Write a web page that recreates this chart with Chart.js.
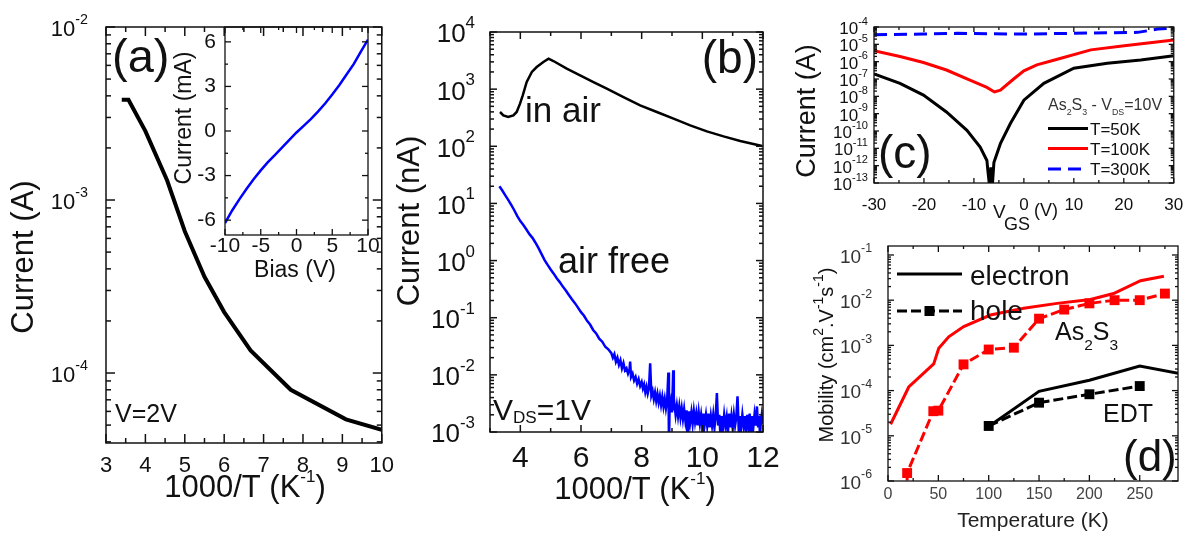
<!DOCTYPE html>
<html lang="en">
<head>
<meta charset="UTF-8" />
<title>Current and mobility of As2S3 films</title>
<style>
  body { margin: 0; background: #fff; }
  #fig { position: relative; width: 1192px; height: 536px; overflow: hidden; }
  canvas { position: absolute; }
</style>
<script src="https://cdn.jsdelivr.net/npm/chart.js@4.4.1/dist/chart.umd.min.js"></script>
</head>
<body>
<div id="fig">
  <canvas id="chartA" width="404" height="536" style="left:0;top:0"></canvas>
  <canvas id="chartInset" width="215" height="290" style="left:170px;top:0"></canvas>
  <canvas id="chartB" width="400" height="536" style="left:395px;top:0"></canvas>
  <canvas id="chartC" width="400" height="240" style="left:795px;top:0"></canvas>
  <canvas id="chartD" width="397" height="300" style="left:795px;top:236px"></canvas>
</div>
<script>
// ---- (a) current vs 1000/T at V=2V
const aInvT = [3.40, 3.57, 4.0, 4.55, 5.0, 5.5, 6.0, 6.67, 7.69, 9.09, 10.0];
const aCurrent = [3.8e-3, 3.8e-3, 2.5e-3, 1.3e-3, 6.6e-4, 3.6e-4, 2.25e-4, 1.35e-4, 8.0e-5, 5.4e-5, 4.7e-5];
const aXTicks = [3, 4, 5, 6, 7, 8, 9, 10];
const aYTicks = [1e-4, 1e-3, 1e-2];
const aYLabels = ['10^{-4}', '10^{-3}', '10^{-2}'];

// ---- (a) inset: I-V
const biasV = [-10, -9, -8, -7, -6, -5, -4, -3, -2, -1, 0, 1, 2, 3, 4, 5, 6, 7, 8, 9, 10];
const biasI = [-6.2, -5.35, -4.6, -3.9, -3.25, -2.65, -2.1, -1.6, -1.1, -0.6, -0.1, 0.35, 0.8, 1.3, 1.85, 2.45, 3.1, 3.8, 4.5, 5.35, 6.15];
const insetXTicks = [-10, -5, 0, 5, 10];
const insetYTicks = [-6, -3, 0, 3, 6];

// ---- (b) in air / air free
const bAirX = [3.33, 3.44, 3.6, 3.77, 3.88, 3.99, 4.08, 4.21, 4.38, 4.54, 4.76, 4.93, 5.09, 5.53, 5.97, 6.41, 6.85, 7.40, 7.95, 8.50, 9.05, 9.60, 10.15, 10.70, 11.25, 11.97];
const bAirY = [398, 348, 325, 348, 398, 557, 779, 1333, 1995, 2440, 2985, 3415, 3107, 2280, 1745, 1333, 1019, 728, 520, 398, 304, 232, 182, 149, 124, 101];
const bFreeX = [3.31, 3.4, 3.5, 3.6, 3.7, 3.8, 3.9, 4.0, 4.1, 4.2, 4.3, 4.4, 4.5, 4.6, 4.7, 4.8, 4.9, 5.0,
  5.1, 5.2, 5.3, 5.4, 5.5, 5.6, 5.7, 5.8, 5.9, 6.0, 6.1, 6.2, 6.3, 6.4, 6.5, 6.6, 6.7, 6.8, 6.9,
  7.0, 7.05, 7.1, 7.15, 7.2, 7.25, 7.3, 7.35, 7.4, 7.45, 7.5, 7.55, 7.6, 7.62, 7.65, 7.7, 7.75, 7.8, 7.85, 7.9, 7.95,
  8.00, 8.04, 8.08, 8.12, 8.16, 8.20, 8.24, 8.28, 8.32, 8.36, 8.40, 8.44, 8.48, 8.52, 8.56, 8.60, 8.64, 8.68, 8.72, 8.76, 8.80, 8.84, 8.88, 8.90, 8.92, 8.96,
  9.00, 9.04, 9.06, 9.08, 9.12, 9.16, 9.20, 9.24, 9.28, 9.32, 9.36, 9.40, 9.44, 9.48, 9.52, 9.56, 9.60, 9.64, 9.68, 9.72, 9.76, 9.80, 9.84, 9.88, 9.92, 9.96,
  10.00, 10.02, 10.04, 10.08, 10.12, 10.16, 10.20, 10.24, 10.28, 10.32, 10.36, 10.40, 10.44, 10.48, 10.52, 10.56, 10.60, 10.64, 10.68, 10.72, 10.76, 10.80, 10.84, 10.88, 10.92, 10.96,
  11.00, 11.04, 11.08, 11.12, 11.16, 11.20, 11.22, 11.24, 11.28, 11.32, 11.36, 11.40, 11.44, 11.48, 11.52, 11.56, 11.60, 11.64, 11.68, 11.72, 11.76, 11.80, 11.84, 11.88, 11.90, 11.92, 11.96, 12.00];
const bFreeY = [20, 17, 14, 11.5, 9.4, 7.6, 6.0, 4.9, 4.2, 3.5, 2.9, 2.5, 2.05, 1.65, 1.3, 1.02, 0.84, 0.70,
  0.59, 0.49, 0.42, 0.35, 0.30, 0.25, 0.21, 0.18, 0.15, 0.125, 0.108, 0.088, 0.076, 0.061, 0.053, 0.043, 0.038, 0.031, 0.028,
  0.024, 0.020, 0.023, 0.017, 0.020, 0.015, 0.018, 0.013, 0.016, 0.012, 0.013, 0.0105, 0.0125, 0.017, 0.0092, 0.0105, 0.0080, 0.0092, 0.0070, 0.0084, 0.0064,
  0.0075, 0.0058, 0.0068, 0.0050, 0.0062, 0.0047, 0.0058, 0.016, 0.0044, 0.0052, 0.0038, 0.0049, 0.0035, 0.0046, 0.0033, 0.0043, 0.0030, 0.0041, 0.0028, 0.0038, 0.0026, 0.0036, 0.011, 0.0006, 0.0025, 0.0034,
  0.0022, 0.012, 0.0024, 0.0031, 0.0020, 0.0029, 0.0019, 0.0028, 0.0018, 0.0026, 0.0017, 0.0025, 0.0016, 0.0024, 0.0006, 0.0023, 0.0015, 0.0022, 0.0014, 0.0023, 0.0015, 0.0021, 0.0013, 0.0022, 0.0014, 0.0020,
  0.0013, 0.0006, 0.0021, 0.0014, 0.0020, 0.0013, 0.0021, 0.0012, 0.0019, 0.0013, 0.0020, 0.0012, 0.0019, 0.0048, 0.0013, 0.0020, 0.0008, 0.0019, 0.0012, 0.0020, 0.0013, 0.0018, 0.0009, 0.0021, 0.0012, 0.0019,
  0.0012, 0.0020, 0.0013, 0.0018, 0.0042, 0.0011, 0.0006, 0.0019, 0.0012, 0.0020, 0.0013, 0.0019, 0.0009, 0.0020, 0.0013, 0.0021, 0.0008, 0.0019, 0.0012, 0.0020, 0.0013, 0.0028, 0.0012, 0.0019, 0.0008, 0.0013, 0.0020, 0.0014];
const bXTicks = [4, 6, 8, 10, 12];
const bYTicks = [1e-3, 1e-2, 1e-1, 1, 1e1, 1e2, 1e3, 1e4];
const bYLabels = ['10^{-3}', '10^{-2}', '10^{-1}', '10^{0}', '10^{1}', '10^{2}', '10^{3}', '10^{4}'];

// ---- (c) transfer curves, As2S3, VDS=10V
const cVgs50 = [-30, -24.8, -20.1, -15.5, -11.4, -8.75, -7.4, -7.2, -6.9, -6.6, -6.3, -6.0, -4.7, -2.7, 0, 4, 10, 16.7, 23.4, 30];
const cI50 = [1.95e-7, 5.6e-8, 1.17e-8, 1.26e-9, 1.1e-10, 1.17e-11, 2e-12, 5e-13, 8e-14, 8e-13, 8e-14, 1.5e-12, 1.86e-11, 2.7e-10, 6e-9, 5.6e-8, 4.2e-7, 8.1e-7, 1.26e-6, 2.2e-6];
const cVgs100 = [-30, -24.8, -20.1, -15.5, -10.8, -7.4, -5.9, -4.7, -2.05, 0, 2.6, 6.7, 13.4, 20.1, 30];
const cI100 = [4.3e-6, 2e-6, 8.9e-7, 3.3e-7, 8.7e-8, 3.3e-8, 1.8e-8, 2.3e-8, 1e-7, 2.95e-7, 6.5e-7, 1.38e-6, 4.8e-6, 8.3e-6, 1.8e-5];
const cVgs300 = [-30, -20, -13.4, -6, 0, 13.4, 22.8, 25.4, 26.8, 30];
const cI300 = [3.55e-5, 3.9e-5, 4.3e-5, 4.1e-5, 3.9e-5, 4.5e-5, 4.9e-5, 6.5e-5, 7.6e-5, 8.7e-5];
const cXTicks = [-30, -20, -10, 0, 10, 20, 30];
const cYTicks = [1e-13, 1e-12, 1e-11, 1e-10, 1e-9, 1e-8, 1e-7, 1e-6, 1e-5, 1e-4];
const cYLabels = ['10^{-13}', '10^{-12}', '10^{-11}', '10^{-10}', '10^{-9}', '10^{-8}', '10^{-7}', '10^{-6}', '10^{-5}', '10^{-4}'];

// ---- (d) mobility vs temperature
const dAsElecT = [2.6, 20.6, 45.4, 50.4, 60.3, 75.2, 101.7, 134.8, 167.9, 201, 224, 250.8, 274];
const dAsElecMu = [1.8e-5, 1.2e-4, 3.9e-4, 8.6e-4, 1.55e-3, 2.6e-3, 4.7e-3, 6.6e-3, 8.5e-3, 1.04e-2, 1.4e-2, 2.7e-2, 3.4e-2];
const dAsHoleT = [19, 19, 45, 50, 75, 100, 125, 150, 175, 200, 225, 250, 275];
const dAsHoleMu = [5e-7, 1.5e-6, 3.5e-5, 3.6e-5, 3.8e-4, 8.1e-4, 8.9e-4, 3.9e-3, 6.2e-3, 8.5e-3, 1.0e-2, 1.0e-2, 1.4e-2];
const dEdtElecT = [100, 150, 200, 250, 289];
const dEdtElecMu = [1.6e-5, 9.6e-5, 1.7e-4, 3.5e-4, 2.4e-4];
const dEdtHoleT = [100, 150, 200, 250];
const dEdtHoleMu = [1.65e-5, 5.4e-5, 8.3e-5, 1.26e-4];
const dXTicks = [0, 50, 100, 150, 200, 250];
const dYTicks = [1e-6, 1e-5, 1e-4, 1e-3, 1e-2, 1e-1];
const dYLabels = ['10^{-6}', '10^{-5}', '10^{-4}', '10^{-3}', '10^{-2}', '10^{-1}'];

const FONT = '"Liberation Sans", Arial, sans-serif';

// split "10^{-2}" / "V_{DS}" into normal, superscript and subscript runs
function parseRich(s) {
  const out = [];
  let buf = '';
  for (let i = 0; i < s.length; i++) {
    const c = s[i];
    if ((c === '^' || c === '_') && s[i + 1] === '{') {
      if (buf) { out.push({ t: buf, m: 0 }); buf = ''; }
      const j = s.indexOf('}', i);
      out.push({ t: s.slice(i + 2, j), m: c === '^' ? 1 : -1 });
      i = j;
    } else {
      buf += c;
    }
  }
  if (buf) out.push({ t: buf, m: 0 });
  return out;
}

function drawRich(ctx, s, x, y, o) {
  const size = o.size;
  const ss = o.ss || 0.62;
  const parts = parseRich(s);
  let w = 0;
  parts.forEach(p => {
    p.px = p.m ? size * ss : size;
    ctx.font = p.px + 'px ' + FONT;
    p.w = ctx.measureText(p.t).width;
    w += p.w;
  });
  ctx.save();
  ctx.translate(x, y);
  if (o.rot) ctx.rotate(o.rot * Math.PI / 180);
  let cx = o.align === 'center' ? -w / 2 : o.align === 'right' ? -w : 0;
  ctx.fillStyle = o.color || '#111';
  ctx.textAlign = 'left';
  ctx.textBaseline = 'alphabetic';
  parts.forEach(p => {
    ctx.font = p.px + 'px ' + FONT;
    const dy = p.m === 1 ? -size * (o.rise || 0.5) : p.m === -1 ? size * (o.drop || 0.3) : 0;
    ctx.fillText(p.t, cx, dy);
    cx += p.w;
  });
  ctx.restore();
}

// tick positions as [value, isMajor]
function tickSet(majors, step, min, max) {
  const out = [];
  majors.forEach(v => out.push([v, true]));
  if (step) {
    const n0 = Math.ceil(min / step - 1e-9);
    const n1 = Math.floor(max / step + 1e-9);
    for (let n = n0; n <= n1; n++) {
      const v = n * step;
      let isMajor = false;
      majors.forEach(m => { if (Math.abs(m - v) < 1e-6) isMajor = true; });
      if (!isMajor) out.push([v, false]);
    }
  }
  return out;
}

function logTickSet(min, max) {
  const out = [];
  const d0 = Math.floor(Math.log10(min));
  const d1 = Math.ceil(Math.log10(max));
  for (let d = d0; d <= d1; d++) {
    for (let k = 1; k <= 9; k++) {
      const v = k * Math.pow(10, d);
      if (v >= min * 0.999 && v <= max * 1.001) out.push([v, k === 1]);
    }
  }
  return out;
}

// per-canvas decoration: box frame, inward ticks, log labels, annotations
const panels = {
  chartA: {
    off: [0, 0], lw: 1.5, major: 9, minor: 5,
    xTicks: aXTicks, xMinor: 0.5, yLog: true,
    yTicks: aYTicks, yLabels: aYLabels, lab: { size: 22, gap: 18 },
    texts: [
      { s: '(a)', x: 112, y: 72, size: 47 },
      { s: 'V=2V', x: 115, y: 422, size: 25 },
      { s: 'Current (A)', x: 33, y: 257, size: 31, rot: -90, align: 'center' },
      { s: '1000/T (K^{-1})', x: 245, y: 497, size: 31, align: 'center', ss: 0.55 }
    ]
  },
  chartInset: {
    off: [170, 0], lw: 1.3, major: 6, minor: 3,
    xTicks: insetXTicks, xMinor: 2.5, yTicks: insetYTicks, yMinor: 1.5,
    texts: [
      { s: 'Current (mA)', x: 191, y: 118, size: 23, rot: -90, align: 'center' },
      { s: 'Bias (V)', x: 295, y: 277, size: 23, align: 'center' }
    ]
  },
  chartB: {
    off: [395, 0], lw: 1.5, major: 7, minor: 4,
    xTicks: bXTicks, xMinor: 1, yLog: true,
    yTicks: bYTicks, yLabels: bYLabels, lab: { size: 26, gap: 15 },
    texts: [
      { s: '(b)', x: 758, y: 73, size: 46, align: 'right' },
      { s: 'in air', x: 525, y: 122, size: 35 },
      { s: 'air free', x: 558, y: 273, size: 36 },
      { s: 'V_{DS}=1V', x: 493, y: 420, size: 30, drop: 0.1, ss: 0.57 },
      { s: 'Current (nA)', x: 419, y: 221, size: 31, rot: -90, align: 'center' },
      { s: '1000/T (K^{-1})', x: 635, y: 499, size: 31, align: 'center', ss: 0.55 }
    ]
  },
  chartC: {
    off: [795, 0], lw: 1.3, major: 5, minor: 3,
    xTicks: cXTicks, xMinor: 5, yLog: true,
    yTicks: cYTicks, yLabels: cYLabels, lab: { size: 17, gap: 6 },
    texts: [
      { s: '(c)', x: 878, y: 168, size: 46 },
      { s: 'Current (A)', x: 815, y: 111, size: 27, rot: -90, align: 'center' },
      { s: 'V', x: 993, y: 218, size: 19 },
      { s: 'GS', x: 1004, y: 230, size: 18 },
      { s: '(V)', x: 1034, y: 216, size: 18 },
      { s: 'As_{2}S_{3} - V_{DS}=10V', x: 1048, y: 110, size: 16, color: '#333', ss: 0.55, drop: 0.3 },
      { s: 'T=50K', x: 1090, y: 134.5, size: 17 },
      { s: 'T=100K', x: 1090, y: 154.5, size: 17 },
      { s: 'T=300K', x: 1090, y: 175, size: 17 }
    ],
    keys: [
      { ds: 0, x1: 1048, x2: 1088, y: 128.5 },
      { ds: 1, x1: 1048, x2: 1088, y: 148.5 },
      { ds: 2, x1: 1048, x2: 1088, y: 169 }
    ]
  },
  chartD: {
    off: [795, 236], lw: 1.3, major: 6, minor: 3,
    xTicks: dXTicks, xMinor: 25, yLog: true,
    yTicks: dYTicks, yLabels: dYLabels, lab: { size: 19, gap: 16, color: '#333' },
    texts: [
      { s: '(d)', x: 1123, y: 471, size: 44 },
      { s: 'electron', x: 970, y: 285, size: 28 },
      { s: 'hole', x: 970, y: 320, size: 28 },
      { s: 'As_{2}S_{3}', x: 1055, y: 340, size: 25, drop: 0.4 },
      { s: 'EDT', x: 1103, y: 422, size: 25 },
      { s: 'Mobility (cm^{2}.V^{-1}s^{-1})', x: 833, y: 355, size: 20, rot: -90, align: 'center', ss: 0.7 },
      { s: 'Temperature (K)', x: 1033, y: 527, size: 21, align: 'center', color: '#222' }
    ],
    keys: [
      { ds: 2, x1: 897, x2: 962, y: 274 },
      { ds: 3, x1: 897, x2: 962, y: 311 }
    ]
  }
};

function segment(ctx, x1, y1, x2, y2) {
  ctx.beginPath();
  ctx.moveTo(x1, y1);
  ctx.lineTo(x2, y2);
  ctx.stroke();
}

const framePlugin = {
  id: 'frame',
  afterDraw(chart) {
    const p = panels[chart.canvas.id];
    const ctx = chart.ctx;
    const a = chart.chartArea;
    const sx = chart.scales.x, sy = chart.scales.y;
    ctx.save();
    ctx.setLineDash([]);
    ctx.lineCap = 'butt';
    ctx.strokeStyle = '#111';
    ctx.lineWidth = p.lw;

    // inward ticks on all four sides
    const xt = tickSet(p.xTicks, p.xMinor, sx.min, sx.max);
    xt.forEach(([v, major]) => {
      let px = sx.getPixelForValue(v);
      if (!isFinite(px)) px = a.left + (v - sx.min) / (sx.max - sx.min) * (a.right - a.left);
      const len = major ? p.major : p.minor;
      segment(ctx, px, a.bottom, px, a.bottom - len);
      segment(ctx, px, a.top, px, a.top + len);
    });
    const yt = p.yLog ? logTickSet(sy.min, sy.max) : tickSet(p.yTicks, p.yMinor, sy.min, sy.max);
    yt.forEach(([v, major]) => {
      const py = sy.getPixelForValue(v);
      const len = major ? p.major : p.minor;
      segment(ctx, a.left, py, a.left + len, py);
      segment(ctx, a.right, py, a.right - len, py);
    });

    ctx.strokeRect(a.left, a.top, a.right - a.left, a.bottom - a.top);

    if (p.yLabels) {
      p.yTicks.forEach((v, i) => {
        const py = sy.getPixelForValue(v);
        drawRich(ctx, p.yLabels[i], a.left - p.lab.gap, py + p.lab.size * 0.36 + 1,
          { size: p.lab.size, align: 'right', color: p.lab.color, rise: 0.55, ss: 0.65 });
      });
    }

    (p.keys || []).forEach(k => {
      const ds = chart.data.datasets[k.ds];
      const x1 = k.x1 - p.off[0], x2 = k.x2 - p.off[0], y = k.y - p.off[1];
      ctx.strokeStyle = ds.borderColor;
      ctx.lineWidth = ds.borderWidth;
      ctx.setLineDash(ds.borderDash || []);
      segment(ctx, x1, y, x2, y);
      ctx.setLineDash([]);
      if (ds.pointStyle === 'rect') {
        ctx.fillStyle = ds.borderColor;
        ctx.fillRect((x1 + x2) / 2 - 5, y - 5, 10, 10);
      }
    });

    p.texts.forEach(t => drawRich(ctx, t.s, t.x - p.off[0], t.y - p.off[1], t));
    ctx.restore();
  }
};

function linAxis(min, max, ticks, fit, horizontal, fontSize, padding, color) {
  return {
    type: 'linear', min, max,
    afterBuildTicks: s => { s.ticks = ticks.map(v => ({ value: v })); },
    afterFit: s => { if (horizontal) s.height = fit; else s.width = fit; },
    grid: { display: false, drawTicks: false },
    border: { display: false },
    ticks: {
      font: { family: FONT, size: fontSize }, color: color || '#111', padding,
      maxRotation: 0, autoSkip: false, callback: v => String(v)
    }
  };
}

function logAxis(min, max, fit) {
  return {
    type: 'logarithmic', min, max,
    afterFit: s => { s.width = fit; },
    grid: { display: false, drawTicks: false },
    border: { display: false },
    ticks: { display: false }
  };
}

function series(xs, ys, color, width, extra) {
  return Object.assign({
    data: xs.map((x, i) => ({ x, y: ys[i] })),
    borderColor: color, backgroundColor: color, borderWidth: width,
    pointRadius: 0, tension: 0, fill: false
  }, extra || {});
}

function makeChart(id, datasets, pad, x, y) {
  return new Chart(document.getElementById(id), {
    type: 'line',
    data: { datasets },
    options: {
      responsive: false, animation: false, events: [],
      layout: { padding: pad },
      scales: { x, y },
      plugins: { legend: { display: false }, tooltip: { enabled: false } }
    },
    plugins: [framePlugin]
  });
}

makeChart('chartA',
  [series(aInvT, aCurrent, '#000', 4)],
  { top: 27, right: 18, left: 0, bottom: 0 },
  linAxis(3, 10, aXTicks, 93, true, 22, 10),
  logAxis(3.94e-5, 1e-2, 106));

makeChart('chartInset',
  [series(biasV, biasI, '#0000ff', 2.5)],
  { top: 27, right: 17, left: 0, bottom: 0 },
  linAxis(-10, 10, insetXTicks, 55, true, 21, -1),
  linAxis(-7, 7, insetYTicks, 55, false, 21, 9));

makeChart('chartB',
  [series(bAirX, bAirY, '#000', 2.5), series(bFreeX, bFreeY, '#0000ff', 2.5)],
  { top: 32, right: 32, left: 0, bottom: 0 },
  linAxis(3, 12, bXTicks, 104, true, 30, 8.5),
  logAxis(1e-3, 1e4, 95));

makeChart('chartC',
  [series(cVgs50, cI50, '#000', 3),
   series(cVgs100, cI100, '#ff0000', 3),
   series(cVgs300, cI300, '#0000ff', 3, { borderDash: [13, 7] })],
  { top: 27, right: 19, left: 0, bottom: 0 },
  linAxis(-30, 30, cXTicks, 57, true, 17, 11.8),
  logAxis(1e-13, 1e-4, 79));

makeChart('chartD',
  [series(dAsElecT, dAsElecMu, '#ff0000', 3),
   series(dAsHoleT, dAsHoleMu, '#ff0000', 3, {
     borderDash: [10, 4], pointStyle: 'rect', pointBorderWidth: 0,
     pointRadius: dAsHoleT.map((t, i) => i === 0 ? 0 : 7)
   }),
   series(dEdtElecT, dEdtElecMu, '#000', 3),
   series(dEdtHoleT, dEdtHoleMu, '#000', 3, {
     borderDash: [10, 4], pointStyle: 'rect', pointBorderWidth: 0, pointRadius: 7
   })],
  { top: 10, right: 14, left: 0, bottom: 0 },
  linAxis(0, 288, dXTicks, 55, true, 16, 4.4, '#444'),
  logAxis(1e-6, 0.158, 93));
</script>
</body>
</html>
